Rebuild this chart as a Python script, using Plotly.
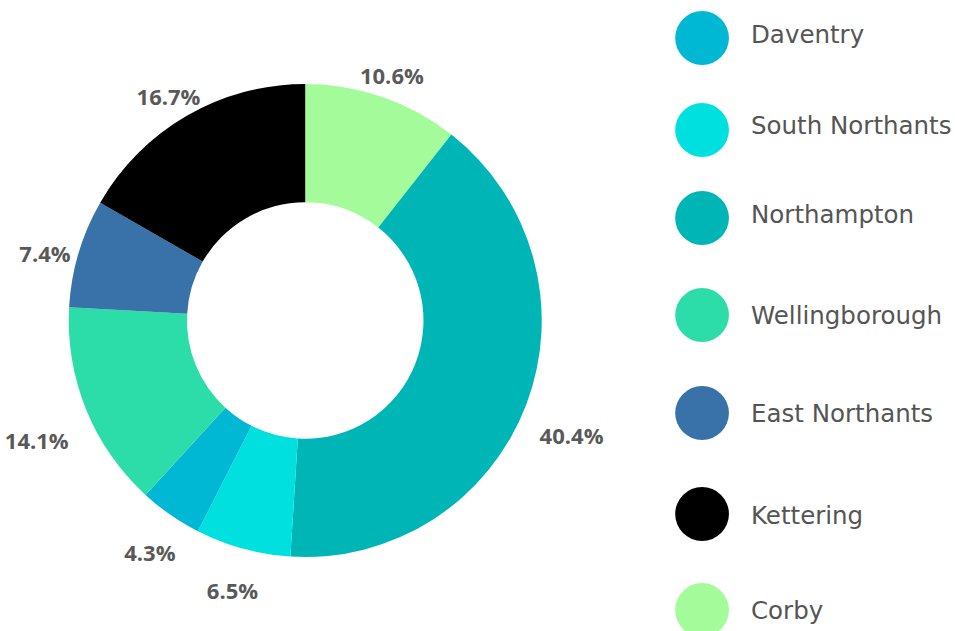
import plotly.graph_objects as go

# Data (clockwise from 12 o'clock)
slice_labels = ["Corby", "Northampton", "South Northants", "Daventry",
                "Wellingborough", "East Northants", "Kettering"]
slice_values = [10.6, 40.4, 6.5, 4.3, 14.1, 7.4, 16.7]
# slices whose label sits beside the ring (large slices) rather than radially centred
label_beside = [False, True, False, False, True, False, False]

colors = {
    "Daventry": "#00B8D4",
    "South Northants": "#00E0DE",
    "Northampton": "#00B5B5",
    "Wellingborough": "#2CDDAA",
    "East Northants": "#3872A8",
    "Kettering": "#000000",
    "Corby": "#A3FC99",
}

legend_order = ["Daventry", "South Northants", "Northampton", "Wellingborough",
                "East Northants", "Kettering", "Corby"]

W, H = 955, 631


def dom(cx, cy, r):
    return dict(x=[max(0, (cx - r) / W), min(1, (cx + r) / W)],
                y=[max(0, (H - cy - r) / H), min(1, (H - cy + r) / H)])


total = sum(slice_values)
pct = [f"{100 * v / total:.1f}%" for v in slice_values]
label_font = dict(family="Open Sans", size=22, color="#595959", weight="bold")

fig = go.Figure()

# visible donut
fig.add_trace(go.Pie(
    labels=slice_labels,
    values=slice_values,
    hole=0.5,
    sort=False,
    direction="clockwise",
    rotation=0,
    marker=dict(colors=[colors[l] for l in slice_labels], line=dict(width=0)),
    textinfo="none",
    showlegend=False,
    domain=dom(302.5, 320.5, 237.5),
))

# transparent outer ring: labels centred radially for the smaller slices
fig.add_trace(go.Pie(
    labels=slice_labels,
    values=slice_values,
    hole=0.869,
    sort=False,
    direction="clockwise",
    rotation=0,
    marker=dict(colors=["rgba(0,0,0,0)"] * len(slice_labels), line=dict(width=0)),
    text=["" if b else p for p, b in zip(pct, label_beside)],
    textinfo="text",
    textposition="inside",
    insidetextorientation="horizontal",
    textfont=label_font,
    showlegend=False,
    hoverinfo="skip",
    domain=dom(301, 330, 290),
))

# transparent ring: labels beside the ring for the two large slices
fig.add_trace(go.Pie(
    labels=slice_labels,
    values=slice_values,
    hole=0.9,
    sort=False,
    direction="clockwise",
    rotation=0,
    marker=dict(colors=["rgba(0,0,0,0)"] * len(slice_labels), line=dict(width=0)),
    text=[p if b else "" for p, b in zip(pct, label_beside)],
    textinfo="text",
    textposition="outside",
    textfont=label_font,
    showlegend=False,
    hoverinfo="skip",
    domain=dom(300.5, 346, 246),
))

# Custom legend with large circles
circle_y = [38, 130, 218, 315, 413, 514, 610]
text_y = [34, 125, 214, 315, 413, 515, 610]
shapes, annotations = [], []
for name, yc, yt in zip(legend_order, circle_y, text_y):
    cx = 701
    shapes.append(dict(type="circle", xref="paper", yref="paper",
                       x0=(cx - 27) / W, x1=(cx + 27) / W,
                       y0=(H - yc - 27) / H, y1=(H - yc + 27) / H,
                       fillcolor=colors[name], line=dict(width=0)))
    annotations.append(dict(text=name, xref="paper", yref="paper",
                            x=748 / W, y=(H - yt) / H,
                            xanchor="left", yanchor="middle",
                            showarrow=False,
                            font=dict(family="DejaVu Sans", size=24.5, color="#555555")))

fig.update_layout(
    width=W, height=H,
    margin=dict(l=0, r=0, t=0, b=0),
    paper_bgcolor="white", plot_bgcolor="white",
    shapes=shapes, annotations=annotations,
    uniformtext=dict(minsize=22, mode="show"),
)

fig.write_html(
    "out.html",
    config={"displayModeBar": False},
    post_script="document.body.style.margin='0';document.body.style.overflow='hidden';",
)
